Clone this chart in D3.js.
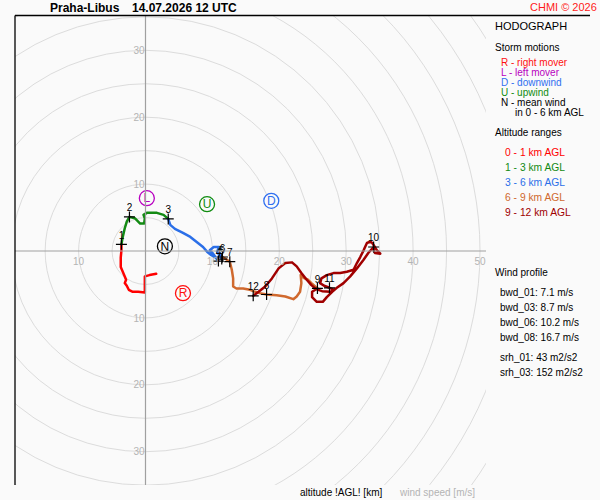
<!DOCTYPE html>
<html><head><meta charset="utf-8">
<script src="https://cdn.jsdelivr.net/npm/d3@7"></script>
<style>
body{margin:0;background:#fafafa;}
svg{display:block;font-family:"Liberation Sans",Arial,sans-serif;}
</style></head>
<body>
<svg id="c" width="600" height="500"></svg>
<script>
// ---- data (u, v components in m/s) ----
const seg01 = [[1.6,-3.4],[0.6,-3.6],[-0.1,-3.8],[-0.1,-4.9],[-0.1,-6.2],[-1.1,-6.1],[-1.9,-6.1],[-2.5,-5.8],[-2.8,-5.2],[-3.1,-4.8],[-2.9,-4.3],[-3.1,-3.8],[-3.4,-3.1],[-3.7,-2.4],[-3.7,-1.0],[-3.6,0.1],[-3.6,1.0]];
const seg13 = [[-3.6,1.0],[-3.4,2.1],[-3.1,3.4],[-2.8,4.4],[-2.4,5.1],[-1.6,4.9],[-0.8,4.1],[-0.2,4.1],[-0.1,4.9],[-0.3,5.4],[0.2,5.7],[1.7,5.7],[2.7,5.4],[3.4,4.8]];
const seg36 = [[3.4,4.8],[3.7,3.9],[4.4,3.3],[5.6,2.7],[6.7,2.1],[7.7,1.3],[8.6,0.6],[9.2,-0.1],[9.8,-0.6],[10.5,-1.0],[10.9,-1.5],[10.1,-0.4],[9.6,0.1],[10.2,0.6],[11.0,0.6],[10.7,-0.1],[11.4,-1.2],[11.1,-0.6],[11.5,-0.9]];
const seg69 = [[11.5,-0.9],[12.0,-1.2],[12.6,-1.6],[12.9,-2.8],[13.1,-4.1],[13.1,-5.3],[13.6,-5.6],[14.6,-5.6],[15.6,-5.8],[16.4,-6.1],[17.1,-6.3],[18.1,-6.5],[19.6,-6.6],[20.9,-6.8],[22.1,-7.2],[22.6,-6.8],[23.1,-6.1],[23.3,-4.8],[23.2,-3.6],[23.8,-4.1],[24.3,-4.3],[24.8,-4.8],[25.7,-5.6]];
const seg912 = [[25.7,-5.6],[24.9,-6.1],[24.9,-6.9],[25.6,-7.6],[26.5,-7.6],[27.1,-6.9],[27.9,-6.1],[28.6,-5.5],[29.6,-4.8],[30.6,-3.8],[31.6,-2.6],[32.6,-1.3],[33.3,-0.3],[34.1,0.6],[34.1,0.1],[34.3,-0.3],[35.1,-0.4],[34.6,0.1],[33.9,1.2],[33.6,1.4],[33.1,1.2],[32.6,0.1],[32.1,-0.9],[31.6,-1.8],[31.1,-2.8],[30.1,-3.1],[29.1,-3.3],[28.1,-3.3],[27.1,-3.6],[26.3,-4.1],[26.1,-4.8],[26.7,-5.2],[27.5,-5.5],[28.2,-5.8],[27.6,-6.1],[26.4,-6.0],[25.5,-5.7],[24.8,-5.1],[24.1,-4.3],[23.3,-3.3],[22.6,-2.3],[21.9,-1.7],[20.9,-1.8],[19.9,-2.6],[18.9,-4.1],[17.9,-5.3],[16.9,-6.1],[16.1,-6.7]];
const segColors = ["#ff0000","#138a13","#2b6fe8","#d0692e","#a00000"];
const segLabels = ["0 - 1 km AGL","1 - 3 km AGL","3 - 6 km AGL","6 - 9 km AGL","9 - 12 km AGL"];

const kmLabels = ["1","2","3","4","5","6","7","8","9","10","11","12"];
const kmU = [-3.6,-2.4,3.4,10.9,11.4,11.5,12.6,18.1,25.7,34.1,27.5,16.1];
const kmV = [1.0,5.1,4.8,-1.5,-1.2,-0.9,-1.6,-6.5,-5.6,0.6,-5.5,-6.7];

const stormLetters = ["R","L","D","U","N"];
const stormU = [5.6,0.2,18.8,9.2,2.9];
const stormV = [-6.3,7.9,7.5,7.0,0.7];
const stormColors = ["#ff1010","#b800c0","#2f6ff0","#108c10","#000000"];
const stormLegend = ["R - right mover","L - left mover","D - downwind","U - upwind","N - mean wind"];

const ringSpeeds = [5,10,15,20,25,30,35,40,45,50,55,60,65];
const xTicks = [-10,10,20,30,40,50];
const yTicks = [30,20,10,-10,-20,-30];

const windProfile = ["bwd_01: 7.1 m/s","bwd_03: 8.7 m/s","bwd_06: 10.2 m/s","bwd_08: 16.7 m/s"];
const helicity = ["srh_01: 43 m2/s2","srh_03: 152 m2/s2"];

// ---- drawing ----
const svg = d3.select("#c");
const L = 15, T = 16, R = 486, B = 485;
const x = d3.scaleLinear().domain([0,50]).range([145.5,480]);
const y = d3.scaleLinear().domain([0,30]).range([251,50.3]);
const k = x(1)-x(0);

svg.append("rect").attr("width",600).attr("height",500).attr("fill","#fafafa");
svg.append("defs").append("clipPath").attr("id","pc")
  .append("rect").attr("x",L).attr("y",T).attr("width",R-L).attr("height",B-T);

const g = svg.append("g").attr("clip-path","url(#pc)");
g.selectAll("circle.ring").data(ringSpeeds).join("circle")
  .attr("cx",x(0)).attr("cy",y(0)).attr("r",d=>d*k)
  .attr("fill","none").attr("stroke","#dcdcdc").attr("stroke-width",1);

// axes
svg.append("line").attr("x1",L).attr("x2",R).attr("y1",y(0)).attr("y2",y(0)).attr("stroke","#a0a0a0").attr("stroke-width",1.2);
svg.append("line").attr("x1",x(0)).attr("x2",x(0)).attr("y1",T).attr("y2",B).attr("stroke","#a0a0a0").attr("stroke-width",1.2);

svg.selectAll("text.xt").data(xTicks).join("text")
  .attr("x",d=>x(d)).attr("y",y(0)+14).attr("text-anchor","middle")
  .attr("font-size",10).attr("fill","#b4b4b4").text(d=>Math.abs(d));
svg.selectAll("text.yt").data(yTicks).join("text")
  .attr("x",x(0)-1).attr("y",d=>y(d)+3.6).attr("text-anchor","end")
  .attr("font-size",10).attr("fill","#b4b4b4").text(d=>Math.abs(d));

// frame
svg.append("line").attr("x1",L).attr("x2",L).attr("y1",T-0.5).attr("y2",B).attr("stroke","#000").attr("stroke-width",1.3);
svg.append("line").attr("x1",L).attr("x2",590).attr("y1",15.5).attr("y2",15.5).attr("stroke","#000").attr("stroke-width",1.3);

// traces
const line = d3.line().x(d=>x(d[0])).y(d=>y(d[1])).curve(d3.curveLinear);
[seg01,seg13,seg36,seg69,seg912].forEach((s,i)=>{
  g.append("path").attr("d",line(s)).attr("fill","none").attr("stroke",segColors[i])
   .attr("stroke-width",2.5).attr("stroke-linejoin","round").attr("stroke-linecap","round");
});

// km markers
const a = 5.5;
kmLabels.forEach((lab,i)=>{
  const px = x(kmU[i]), py = y(kmV[i]);
  g.append("path").attr("d",`M${px-a},${py}H${px+a}M${px},${py-a}V${py+a}`)
    .attr("stroke","#000").attr("stroke-width",1.2);
});
kmLabels.forEach((lab,i)=>{
  const px = x(kmU[i]), py = y(kmV[i]);
  g.append("text").attr("x",px).attr("y",py-5.5).attr("text-anchor","middle")
    .attr("font-size",10).attr("fill","#000").text(lab);
});

// storm motions
stormLetters.forEach((s,i)=>{
  const px = x(stormU[i]), py = y(stormV[i]);
  g.append("circle").attr("cx",px).attr("cy",py).attr("r",7.5)
    .attr("fill","#fafafa").attr("stroke",stormColors[i]).attr("stroke-width",1.3);
  g.append("text").attr("x",px).attr("y",py+4.3).attr("text-anchor","middle")
    .attr("font-size",12).attr("fill",stormColors[i]).text(s);
});

// titles
svg.append("text").attr("x",50).attr("y",12).attr("font-size",12).attr("font-weight","bold").text("Praha-Libus");
svg.append("text").attr("x",132).attr("y",12).attr("font-size",12).attr("font-weight","bold").text("14.07.2026 12 UTC");
svg.append("text").attr("x",530).attr("y",10.5).attr("font-size",11).attr("fill","#ff1a1a").text("CHMI © 2026");

// legend
svg.append("text").attr("x",495).attr("y",30).attr("font-size",11).text("HODOGRAPH");
svg.append("text").attr("x",495).attr("y",51).attr("font-size",10).text("Storm motions");
stormLegend.forEach((t,i)=>{
  svg.append("text").attr("x",501).attr("y",65.5+i*10).attr("font-size",10)
    .attr("fill",stormColors[i]).text(t);
});
svg.append("text").attr("x",515).attr("y",115.5).attr("font-size",10).text("in 0 - 6 km AGL");
svg.append("text").attr("x",495).attr("y",135.5).attr("font-size",10).text("Altitude ranges");
segLabels.forEach((t,i)=>{
  svg.append("text").attr("x",505).attr("y",155.5+i*15).attr("font-size",10.3)
    .attr("fill",segColors[i]).text(t);
});
svg.append("text").attr("x",495).attr("y",276).attr("font-size",10).text("Wind profile");
windProfile.forEach((t,i)=>{
  svg.append("text").attr("x",500).attr("y",296+i*15).attr("font-size",10).text(t);
});
helicity.forEach((t,i)=>{
  svg.append("text").attr("x",500).attr("y",361+i*15).attr("font-size",10).text(t);
});

svg.append("text").attr("x",300).attr("y",495.5).attr("font-size",10).text("altitude !AGL! [km]");
svg.append("text").attr("x",400).attr("y",495.5).attr("font-size",10).attr("fill","#b4b4b4").text("wind speed [m/s]");
</script>
</body></html>
